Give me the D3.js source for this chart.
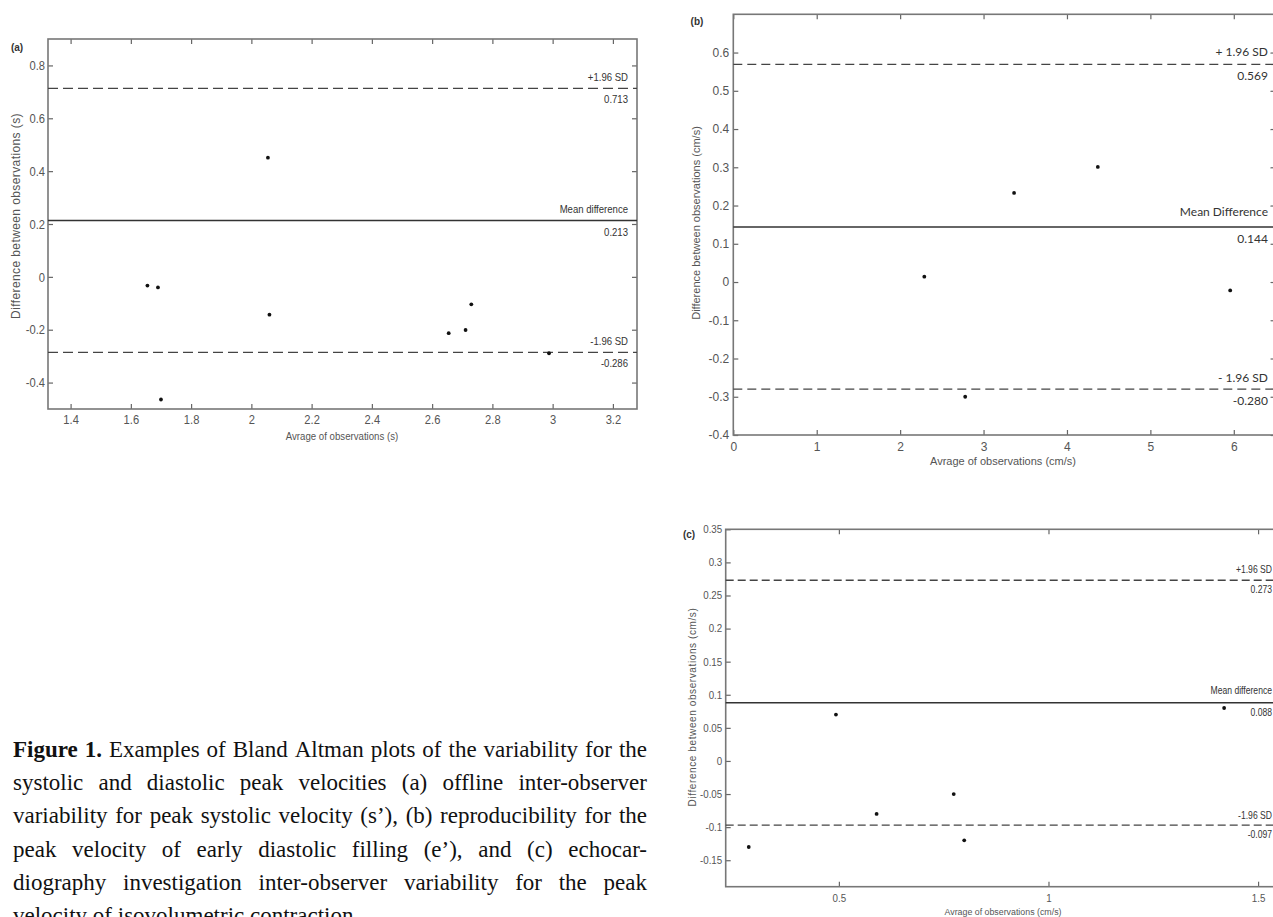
<!DOCTYPE html>
<html>
<head>
<meta charset="utf-8">
<script src="https://cdn.jsdelivr.net/npm/d3@7"></script>
<style>
  html, body { margin: 0; padding: 0; background: #fff; }
  svg { display: block; }
</style>
</head>
<body>
<svg id="fig" width="1273" height="917"></svg>
<script>
// ---- data ----
// (a) offline inter-observer variability, s'
const aAvg  = [1.655, 1.69, 1.70, 2.055, 2.06, 2.655, 2.711, 2.73, 2.988];
const aDiff = [-0.033, -0.04, -0.464, 0.451, -0.143, -0.213, -0.201, -0.104, -0.289];
const aLimits = [0.713, 0.213, -0.286];
const aLimitNames = ["+1.96 SD", "Mean difference", "-1.96 SD"];
const aLimitText = ["0.713", "0.213", "-0.286"];
const aTicksX = [1.4, 1.6, 1.8, 2, 2.2, 2.4, 2.6, 2.8, 3, 3.2];
const aTicksY = [-0.4, -0.2, 0, 0.2, 0.4, 0.6, 0.8];

// (b) reproducibility, e'
const bAvg  = [2.29, 2.78, 3.366, 4.37, 5.957];
const bDiff = [0.014, -0.30, 0.233, 0.301, -0.022];
const bLimits = [0.569, 0.144, -0.280];
const bLimitNames = ["+ 1.96 SD", "Mean Difference", "- 1.96 SD"];
const bLimitText = ["0.569", "0.144", "-0.280"];
const bTicksX = [0, 1, 2, 3, 4, 5, 6];
const bTicksY = [-0.4, -0.3, -0.2, -0.1, 0, 0.1, 0.2, 0.3, 0.4, 0.5, 0.6];

// (c) echo inter-observer variability, isovolumetric contraction
const cAvg  = [0.285, 0.493, 0.59, 0.774, 0.799, 1.419];
const cDiff = [-0.13, 0.07, -0.08, -0.05, -0.12, 0.08];
const cLimits = [0.273, 0.088, -0.097];
const cLimitNames = ["+1.96 SD", "Mean difference", "-1.96 SD"];
const cLimitText = ["0.273", "0.088", "-0.097"];
const cTicksX = [0.5, 1, 1.5];
const cTicksY = [-0.15, -0.1, -0.05, 0, 0.05, 0.1, 0.15, 0.2, 0.25, 0.3, 0.35];

const captionLines = [
  "Figure 1. Examples of Bland Altman plots of the variability for the",
  "systolic and diastolic peak velocities (a) offline inter-observer",
  "variability for peak systolic velocity (s\u2019), (b) reproducibility for the",
  "peak velocity of early diastolic filling (e\u2019), and (c) echocar-",
  "diography investigation inter-observer variability for the peak",
  "velocity of isovolumetric contraction."
];

const SANS = "'Liberation Sans', Arial, sans-serif";

const svg = d3.select("#fig");

// squeeze text horizontally around its own x (no narrow face installed)
function condense(sel, k) {
  if (k === 1) return;
  sel.each(function () {
    const t = d3.select(this);
    const x = +t.attr("x") || 0;
    const prev = t.attr("transform") || "";
    t.attr("transform", `${prev} translate(${x},0) scale(${k},1) translate(${-x},0)`);
  });
}

function drawPanel(p) {
  const x = d3.scaleLinear().domain(p.xDomain).range([p.left, p.right]);
  const y = d3.scaleLinear().domain(p.yDomain).range([p.bottom, p.top]);
  const g = svg.append("g");
  const fmt = d => String(d);

  const styleAxis = sel => {
    sel.select(".domain").remove();
    sel.selectAll(".tick line").attr("stroke", "#666").attr("stroke-width", 1.2);
    sel.selectAll(".tick text")
      .attr("fill", "#555")
      .style("font-family", SANS)
      .style("font-size", p.tickSize + "px")
      .call(condense, p.tickK);
  };

  g.append("g").attr("transform", `translate(0,${p.bottom})`)
    .call(d3.axisBottom(x).tickValues(p.ticksX).tickFormat(fmt)
      .tickSizeInner(-5).tickSizeOuter(0).tickPadding(p.padX))
    .call(styleAxis);
  g.append("g").attr("transform", `translate(${p.left},0)`)
    .call(d3.axisLeft(y).tickValues(p.ticksY).tickFormat(fmt)
      .tickSizeInner(-5).tickSizeOuter(0).tickPadding(p.padY))
    .call(styleAxis);
  g.append("g").attr("transform", `translate(0,${p.top})`)
    .call(d3.axisTop(x).tickValues(p.ticksX).tickFormat("")
      .tickSizeInner(-5).tickSizeOuter(0))
    .call(styleAxis);
  g.append("g").attr("transform", `translate(${p.right},0)`)
    .call(d3.axisRight(y).tickValues(p.ticksY).tickFormat("")
      .tickSizeInner(-5).tickSizeOuter(0))
    .call(styleAxis);

  // box
  g.append("rect")
    .attr("x", p.left).attr("y", p.top)
    .attr("width", p.right - p.left).attr("height", p.bottom - p.top)
    .attr("fill", "none").attr("stroke", "#777").attr("stroke-width", 1.6);

  // mean and limits of agreement
  g.selectAll("line.lim")
    .data(p.limits)
    .join("line")
    .attr("class", "lim")
    .attr("x1", p.left).attr("x2", p.right)
    .attr("y1", d => y(d)).attr("y2", d => y(d))
    .attr("stroke", (d, i) => i === 1 ? "#333" : "#444")
    .attr("stroke-width", (d, i) => i === 1 ? 1.6 : 1.3)
    .attr("stroke-dasharray", (d, i) => i === 1 ? null : p.dash);

  // labels on the lines
  p.limits.forEach((v, i) => {
    g.append("text")
      .attr("x", p.labelX).attr("y", y(v) + p.aboveOff[i])
      .attr("text-anchor", "end")
      .attr("fill", "#333")
      .style("font-family", p.labelFont).style("font-size", p.labelSize + "px")
      .text(p.names[i])
      .call(condense, p.labelK);
    g.append("text")
      .attr("x", p.labelX).attr("y", y(v) + p.belowOff)
      .attr("text-anchor", "end")
      .attr("fill", "#333")
      .style("font-family", p.labelFont).style("font-size", p.labelSize + "px")
      .text(p.valueText[i])
      .call(condense, p.labelK);
  });

  // points
  g.selectAll("circle")
    .data(d3.zip(p.xs, p.ys))
    .join("circle")
    .attr("cx", d => x(d[0]))
    .attr("cy", d => y(d[1]))
    .attr("r", 1.9)
    .attr("fill", "#111");

  // titles
  g.append("text")
    .attr("transform", `translate(${p.yTitle[0]},${p.yTitle[1]}) rotate(-90)`)
    .attr("text-anchor", "middle").attr("dominant-baseline", "middle")
    .attr("fill", "#555")
    .style("font-family", SANS).style("font-size", p.titleSize + "px")
    .style("letter-spacing", p.yTitleSpacing + "px")
    .text(p.yLabel);
  g.append("text")
    .attr("x", p.xTitle[0]).attr("y", p.xTitle[1])
    .attr("text-anchor", "middle").attr("dominant-baseline", "middle")
    .attr("fill", "#555")
    .style("font-family", SANS).style("font-size", p.xTitleSize + "px")
    .text(p.xLabel)
    .call(condense, p.xTitleK);

  g.append("text")
    .attr("x", p.tag[0]).attr("y", p.tag[1])
    .attr("text-anchor", "middle").attr("dominant-baseline", "middle")
    .attr("fill", "#333")
    .style("font-family", SANS).style("font-size", "10px").style("font-weight", "bold")
    .text(p.tagText);
}

drawPanel({
  xs: aAvg, ys: aDiff, limits: aLimits, names: aLimitNames, valueText: aLimitText,
  ticksX: aTicksX, ticksY: aTicksY,
  xDomain: [1.325, 3.28], yDomain: [-0.5, 0.9],
  left: 48, right: 637, top: 39, bottom: 409,
  tickSize: 13, tickK: 0.86, padX: 6, padY: 3,
  labelFont: SANS, labelSize: 11, labelK: 0.87, labelX: 628, aboveOff: [-7, -8, -7], belowOff: 15,
  dash: "10,5",
  titleSize: 12, xTitleSize: 11.5, xTitleK: 0.84, yTitleSpacing: 0.4,
  yLabel: "Difference between observations (s)", yTitle: [17, 216],
  xLabel: "Avrage of observations (s)", xTitle: [342, 437],
  tagText: "(a)", tag: [17, 48]
});

drawPanel({
  xs: bAvg, ys: bDiff, limits: bLimits, names: bLimitNames, valueText: bLimitText,
  ticksX: bTicksX, ticksY: bTicksY,
  xDomain: [0, 6.5], yDomain: [-0.4, 0.7],
  left: 733.3, right: 1275.5, top: 14.3, bottom: 435,
  tickSize: 12, tickK: 1, padX: 7, padY: 4,
  labelFont: "Lato, 'Open Sans', sans-serif", labelSize: 12, labelK: 1, labelX: 1268, aboveOff: [-8, -11, -7], belowOff: 16,
  dash: "9,5",
  titleSize: 11, xTitleSize: 11, xTitleK: 1, yTitleSpacing: 0,
  yLabel: "Difference between observations (cm/s)", yTitle: [697, 223],
  xLabel: "Avrage of observations (cm/s)", xTitle: [1003, 462],
  tagText: "(b)", tag: [697, 22]
});

drawPanel({
  xs: cAvg, ys: cDiff, limits: cLimits, names: cLimitNames, valueText: cLimitText,
  ticksX: cTicksX, ticksY: cTicksY,
  xDomain: [0.23, 1.6], yDomain: [-0.19, 0.35],
  left: 725.7, right: 1300, top: 529.3, bottom: 886.7,
  tickSize: 10.5, tickK: 0.93, padX: 8, padY: 3.5,
  labelFont: SANS, labelSize: 10, labelK: 0.86, labelX: 1272, aboveOff: [-7, -9, -6], belowOff: 13,
  dash: "8,4",
  titleSize: 10, xTitleSize: 9.5, xTitleK: 0.93, yTitleSpacing: 0.6,
  yLabel: "Difference between observations (cm/s)", yTitle: [693, 707],
  xLabel: "Avrage of observations (cm/s)", xTitle: [1003, 913],
  tagText: "(c)", tag: [689, 535]
});

// ---- caption, justified like the journal column ----
const capLeft = 13, capRight = 647, capTop = 757, capStep = 33.2, capSize = 23;
const cap = svg.append("g")
  .style("font-family", "'Liberation Serif', 'Times New Roman', serif")
  .style("font-size", capSize + "px")
  .attr("fill", "#111");

captionLines.forEach((line, li) => {
  const words = line.split(" ");
  const nodes = words.map((w, wi) => cap.append("text")
    .attr("y", capTop + li * capStep)
    .style("font-weight", li === 0 && wi < 2 ? "bold" : "normal")
    .text(w));
  const widths = nodes.map(n => n.node().getComputedTextLength());
  const total = d3.sum(widths);
  const last = li === captionLines.length - 1;
  const gap = last ? capSize * 0.25 : (capRight - capLeft - total) / (words.length - 1);
  let cx = capLeft;
  nodes.forEach((n, i) => {
    n.attr("x", cx);
    cx += widths[i] + gap;
  });
});
</script>
</body>
</html>
